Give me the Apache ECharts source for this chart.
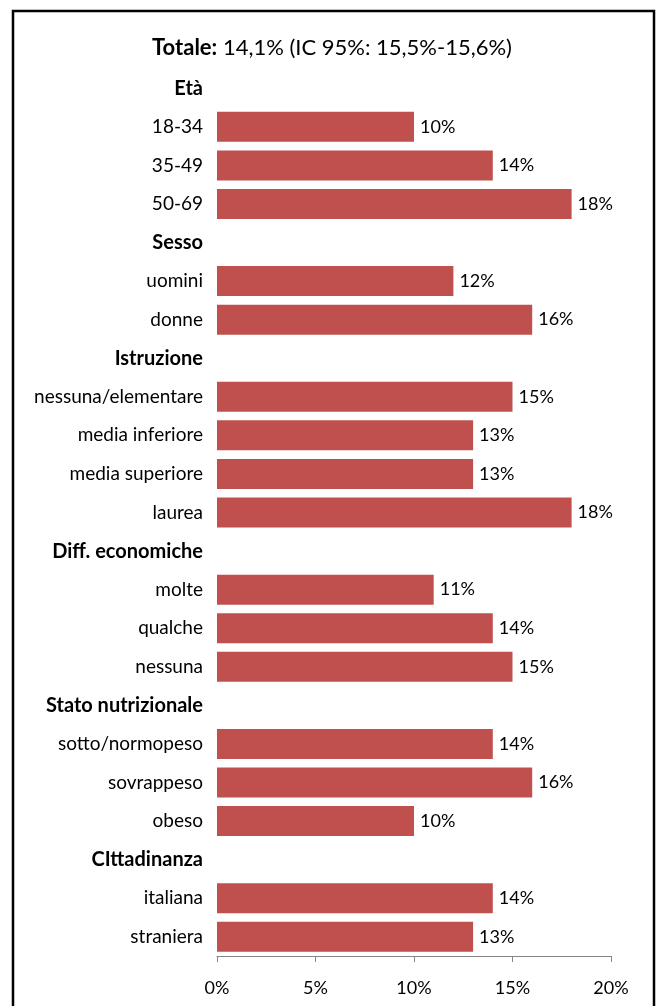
<!DOCTYPE html>
<html>
<head>
<meta charset="utf-8">
<script src="https://cdn.jsdelivr.net/npm/echarts@6/dist/echarts.min.js"></script>
<style>
  html, body { margin: 0; padding: 0; background: #fff; }
  #chart { width: 656px; height: 1006px; }
</style>
</head>
<body>
<div id="chart"></div>
<script>
// Rows from top to bottom; group headers carry no value
const categories = [
  'Età', '18-34', '35-49', '50-69',
  'Sesso', 'uomini', 'donne',
  'Istruzione', 'nessuna/elementare', 'media inferiore', 'media superiore', 'laurea',
  'Diff. economiche', 'molte', 'qualche', 'nessuna',
  'Stato nutrizionale', 'sotto/normopeso', 'sovrappeso', 'obeso',
  'CIttadinanza', 'italiana', 'straniera'
];
const headers = ['Età', 'Sesso', 'Istruzione', 'Diff. economiche', 'Stato nutrizionale', 'CIttadinanza'];
const values = [
  null, 10, 14, 18,
  null, 12, 16,
  null, 15, 13, 13, 18,
  null, 11, 14, 15,
  null, 14, 16, 10,
  null, 14, 13
];
const xTicks = [0, 5, 10, 15, 20];

const FONT = 'Lato';
const chart = echarts.init(document.getElementById('chart'), null, { renderer: 'canvas' });

chart.setOption({
  backgroundColor: '#ffffff',
  animation: false,
  title: {
    text: '{b|Totale:} 14,1% (IC 95%: 15,5%-15,6%)',
    left: 327,
    top: 32,
    textAlign: 'center',
    textStyle: {
      fontFamily: FONT,
      fontSize: 22,
      fontWeight: 'normal',
      color: '#000',
      rich: {
        b: { fontFamily: FONT, fontSize: 22, fontWeight: 'bold', color: '#000' }
      }
    }
  },
  graphic: [{
    type: 'polyline',
    shape: { points: [[13, 1010], [13, 11], [654, 11], [654, 1010]] },
    style: { stroke: '#000', lineWidth: 2.5, fill: null },
    silent: true
  }],
  grid: { left: 217, right: 45, top: 69, bottom: 50, containLabel: false },
  xAxis: {
    type: 'value',
    min: xTicks[0],
    max: xTicks[xTicks.length - 1],
    interval: 5,
    splitLine: { show: false },
    axisLine: { show: true, lineStyle: { color: '#868686', width: 1 } },
    axisTick: { show: true, length: 6, lineStyle: { color: '#868686' } },
    axisLabel: {
      formatter: v => v + '%',
      fontFamily: FONT, fontSize: 18, color: '#000', margin: 23
    }
  },
  yAxis: {
    type: 'category',
    inverse: true,
    data: categories,
    axisLine: { show: false },
    axisTick: { show: false },
    axisLabel: {
      margin: 14,
      fontFamily: FONT,
      fontSize: 19,
      color: '#000',
      formatter: v => headers.includes(v) ? '{h|' + v + '}' : v,
      rich: {
        h: { fontFamily: FONT, fontSize: 20, fontWeight: 'bold', color: '#000' }
      }
    }
  },
  series: [{
    type: 'bar',
    data: values,
    barWidth: 30,
    itemStyle: { color: '#C0504D' },
    label: {
      show: true,
      position: 'right',
      distance: 6,
      formatter: p => p.value + '%',
      fontFamily: FONT,
      fontSize: 18,
      color: '#000'
    }
  }]
});
</script>
</body>
</html>
